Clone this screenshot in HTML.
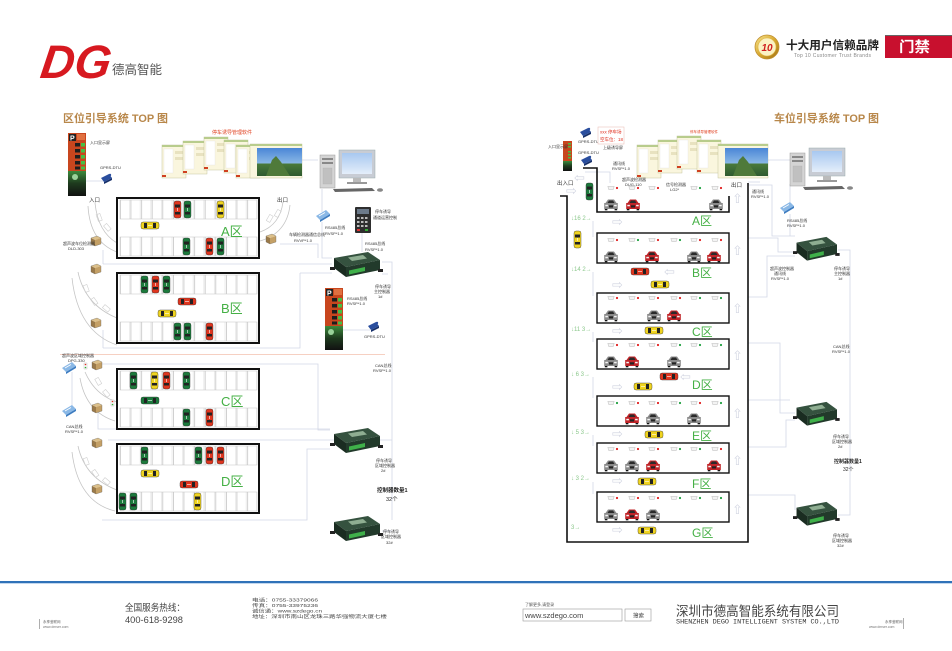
<!DOCTYPE html>
<html><head><meta charset="utf-8">
<style>
html,body{margin:0;padding:0;background:#fff;}
body{width:952px;height:651px;overflow:hidden;}
svg{display:block;font-family:"Liberation Sans","Noto Sans CJK SC",sans-serif;}
.t{font-size:4px;fill:#333;}
.ln{fill:none;stroke:#d3d7e6;stroke-width:0.8;}
.arc{fill:none;stroke:#c4c4c4;stroke-width:0.8;}
.cnt{font-size:6px;fill:#8cc88c;}
.zl{font-size:13px;fill:#45b045;}
.zr{font-size:12px;fill:#45b045;}
.ar{font-size:13px;fill:#d4d7e3;font-family:"DejaVu Sans",sans-serif;}
</style></head>
<body>
<svg width="952" height="651" viewBox="0 0 952 651" xmlns="http://www.w3.org/2000/svg">
<defs>
  <pattern id="sp" width="10.6" height="4" patternUnits="userSpaceOnUse" x="120">
    <rect x="0" y="0" width="0.7" height="4" fill="#bdbdbd"/>
    <rect x="9.4" y="0" width="0.5" height="4" fill="#d6d6d6"/>
  </pattern>
  <g id="cv"><rect x="0" y="0" width="7" height="17" rx="2" stroke="#333" stroke-width="0.4"/><rect x="1" y="3.5" width="5" height="3" fill="#222"/><rect x="1" y="11" width="5" height="2.5" fill="#222"/><rect x="3" y="7" width="1" height="3" fill="#fff" opacity="0.6"/></g>
  <g id="ch"><rect x="0" y="0" width="18" height="7" rx="2" stroke="#333" stroke-width="0.4"/><rect x="3" y="1" width="3" height="5" fill="#222"/><rect x="12" y="1" width="3" height="5" fill="#222"/><rect x="7" y="3" width="4" height="1" fill="#fff" opacity="0.6"/></g>
  <g id="cf"><path d="M1.5,4 L4,0.5 H10 L12.5,4 H13.8 V10 H0.2 V4 Z"/><path d="M3.5,4 L5,1.5 H9 L10.5,4Z" fill="#2a2a2a"/><rect x="1.3" y="5.8" width="2.6" height="1.5" fill="#f4f4f4"/><rect x="10.1" y="5.8" width="2.6" height="1.5" fill="#f4f4f4"/><rect x="5" y="6.3" width="4" height="2.2" fill="#222"/><rect x="0.8" y="10" width="2.6" height="1.3" fill="#111"/><rect x="10.6" y="10" width="2.6" height="1.3" fill="#111"/></g>
  <g id="sn"><path d="M-3.2,-1.6 h6.4 l-1,3.2 h-4.4z" fill="#f3f3f3" stroke="#aaa" stroke-width="0.4"/></g>
  <g id="pb"><path d="M0,2 L6,0 L10,2 L4,4Z" fill="#dcc08a"/><path d="M0,2 L4,4 V10 L0,8Z" fill="#9a7a4a"/><path d="M4,4 L10,2 V8 L4,10Z" fill="#c4a066"/><path d="M0,2 L6,0 L10,2 V8 L4,10 L0,8Z" fill="none" stroke="#555" stroke-width="0.3"/></g>
  <g id="ctl"><path d="M4,8 L38,2 L50,10 L16,17Z" fill="#35523f"/><path d="M4,8 L16,17 V27 L4,18Z" fill="#1a2c21"/><path d="M16,17 L50,10 V20 L16,27Z" fill="#223a2b"/><path d="M18,7.5 L33,5 L37,8.5 L22,11Z" fill="#8fae92"/><path d="M19,20.5 L35,17 V21 L19,24.5Z" fill="#3fb04a"/><rect x="0" y="17" width="5" height="3" fill="#222"/><rect x="48" y="19" width="5" height="3" fill="#222"/></g>
  <g id="gprs"><path d="M0,4 L8,0 L11,4 L3,8Z" fill="#2a4e9e"/><path d="M3,8 L11,4 V6 L3,10Z" fill="#17306a"/><circle cx="9" cy="1" r="1.2" fill="#2a4e9e"/></g>
  <g id="conv"><path d="M0,6 L10,0 L14,4 L4,10Z" fill="#8ab8e6"/><path d="M4,10 L14,4 V6 L4,12Z" fill="#3d7cc0"/><path d="M3,6 L9,2.5" stroke="#fff" stroke-width="0.8"/></g>
  <linearGradient id="scr" x1="0" y1="0" x2="0" y2="1"><stop offset="0" stop-color="#4a86d6"/><stop offset="0.55" stop-color="#8ab8e6"/><stop offset="0.56" stop-color="#4a7a3a"/><stop offset="1" stop-color="#2e5a30"/></linearGradient>
  <linearGradient id="mon" x1="0" y1="0" x2="0" y2="1"><stop offset="0" stop-color="#a8c8f0"/><stop offset="1" stop-color="#e4eefa"/></linearGradient>
  <linearGradient id="gold" x1="0" y1="0" x2="1" y2="1"><stop offset="0" stop-color="#f8e690"/><stop offset="0.5" stop-color="#d8a830"/><stop offset="1" stop-color="#a07010"/></linearGradient>
  <linearGradient id="sig" x1="0" y1="0" x2="0" y2="1"><stop offset="0" stop-color="#3c8a3c"/><stop offset="0.5" stop-color="#1e3a1e"/><stop offset="1" stop-color="#111"/></linearGradient>
  <g id="pc">
    <rect x="0" y="5" width="15" height="33" fill="#d4d4d4" stroke="#999" stroke-width="0.5"/>
    <rect x="2" y="8" width="11" height="2" fill="#888"/><rect x="2" y="12" width="11" height="2" fill="#888"/><rect x="3" y="18" width="9" height="16" fill="#c0c0c0" stroke="#aaa" stroke-width="0.3"/>
    <rect x="19" y="0" width="36" height="28" fill="#c8ccd4" stroke="#9aa" stroke-width="0.5"/>
    <rect x="22" y="3" width="30" height="21" fill="url(#mon)"/>
    <rect x="33" y="28" width="8" height="4" fill="#bbb"/><rect x="27" y="32" width="20" height="2" fill="#999"/>
    <path d="M13,39 L52,38 L55,41 L15,42Z" fill="#666"/><ellipse cx="60" cy="40" rx="3" ry="1.8" fill="#888"/>
  </g>
  <g id="win">
    <rect x="0" y="0" width="24" height="33" fill="#faf6de" stroke="#b8b890" stroke-width="0.4"/>
    <rect x="0" y="0" width="24" height="2" fill="#b8cc8c"/>
    <rect x="2" y="4" width="9" height="24" fill="#fff" stroke="#ddd" stroke-width="0.3"/>
    <rect x="13" y="6" width="8" height="3" fill="#e8e2c0"/><rect x="13" y="12" width="8" height="3" fill="#e8e2c0"/>
    <rect x="0" y="30" width="4" height="2" fill="#d04020"/>
  </g>
</defs>

<!-- ===== HEADER ===== -->
<text x="41" y="78" font-size="47" font-weight="bold" font-style="italic" fill="#d71920" textLength="70" lengthAdjust="spacingAndGlyphs" transform="skewX(-8) translate(9,0)">DG</text>
<text x="112" y="74" font-size="12.5" fill="#555" textLength="50" lengthAdjust="spacingAndGlyphs">德高智能</text>

<circle cx="767" cy="47" r="12" fill="url(#gold)" stroke="#c09030" stroke-width="0.8"/>
<circle cx="767" cy="47" r="9" fill="#fbf2c4" stroke="#e0b848" stroke-width="0.6"/>
<text x="767" y="51" font-size="10" font-weight="bold" font-style="italic" fill="#d02020" text-anchor="middle">10</text>
<text x="786" y="49" font-size="11.5" font-weight="bold" fill="#222" textLength="93" lengthAdjust="spacingAndGlyphs">十大用户信赖品牌</text>
<text x="794" y="57" font-size="5" fill="#888" textLength="77" lengthAdjust="spacing">Top 10 Customer Trust Brands</text>
<rect x="885" y="35" width="67" height="23" fill="#c8102e"/>
<rect x="885" y="35" width="67" height="1" fill="#666"/>
<text x="899" y="52" font-size="14.5" font-weight="bold" fill="#fff" textLength="31" lengthAdjust="spacingAndGlyphs">门禁</text>

<text x="63" y="122" font-size="11" font-weight="bold" fill="#b8874a" textLength="105" lengthAdjust="spacingAndGlyphs">区位引导系统 TOP 图</text>
<text x="774" y="122" font-size="11" font-weight="bold" fill="#b8874a" textLength="105" lengthAdjust="spacingAndGlyphs">车位引导系统 TOP 图</text>

<!-- ===== LEFT DIAGRAM ===== -->
<path class="ln" d="M86,181 H104 M302,160 H318 M322,189 V212 M322,222 V258 H332 M362,232 V252 M280,244 H318 V258 M103,264 H332 M300,273 H332 M300,273 V348 H103 M103,330 V348 M103,250 V264 M343,330 H370 M382,262 H392 V520 M382,274 H388 M392,440 H108 M100,364 H318 V430 H330 M98,412 V429 H330 M72,372 V412 M102,520 H307 V449 H330 M382,531 H392"/>
<rect x="68" y="133" width="18" height="38" fill="#c8461e"/>
<rect x="69" y="134" width="7" height="7" fill="#222"/><text x="70" y="140.5" font-size="7" font-weight="bold" fill="#fff">P</text>
<rect x="77" y="134" width="8" height="6" fill="#e07040"/>
<g fill="#1e1e1e"><rect x="75" y="143" width="5" height="3.5"/><rect x="75" y="149" width="5" height="3.5"/><rect x="75" y="155" width="5" height="3.5"/><rect x="75" y="161" width="5" height="3.5"/><rect x="75" y="166.5" width="5" height="3"/></g>
<g fill="#44c044"><rect x="81" y="143" width="4" height="3.5"/><rect x="81" y="149" width="4" height="3.5"/><rect x="81" y="155" width="4" height="3.5"/><rect x="81" y="161" width="4" height="3.5"/><rect x="81" y="166.5" width="4" height="3"/></g>
<rect x="68" y="171" width="18" height="25" fill="url(#sig)"/>
<circle cx="75" cy="177" r="3" fill="#9ad29a"/>
<text class="t" x="90" y="144">入口显示屏</text>
<text class="t" x="100" y="169" font-size="3.5">GPRS-DTU</text>
<use href="#gprs" x="101" y="174"/>

<text x="212" y="134" font-size="5" fill="#e04020" textLength="40" lengthAdjust="spacingAndGlyphs">停车诱导管理软件</text>
<use href="#win" x="162" y="145"/>
<use href="#win" x="183" y="141"/>
<use href="#win" x="204" y="137"/>
<use href="#win" x="224" y="140"/>
<use href="#win" x="236" y="145"/>
<rect x="250" y="144" width="52" height="34" fill="#faf6de" stroke="#b8b890" stroke-width="0.4"/>
<rect x="250" y="144" width="52" height="2" fill="#b8cc8c"/>
<rect x="257" y="148" width="45" height="28" fill="url(#scr)"/>
<path d="M266,176 L272,160 L276,156 L281,162 L290,176Z" fill="#4f7a3a"/>

<use href="#pc" x="320" y="150"/>

<text x="89" y="202" font-size="5.5" fill="#333">入口</text>
<text x="277" y="202" font-size="5.5" fill="#333">出口</text>

<path class="arc" d="M95,203 Q98,232 117,243 M88,206 Q90,242 117,252 M283,202 Q280,225 260,232 M290,205 Q287,233 260,241 M78,272 Q85,305 117,318 M72,278 Q78,332 117,345 M85,372 Q95,395 117,402 M80,378 Q86,412 115,421 M78,446 Q85,478 117,490 M72,452 Q78,502 115,511"/>
<g fill="none" stroke="#cfcfcf" stroke-width="0.6">
<rect x="97" y="214" width="4" height="7" transform="rotate(-20 99 217)"/><rect x="105" y="224" width="4" height="7" transform="rotate(-40 107 227)"/>
<rect x="268" y="215" width="4" height="7" transform="rotate(30 270 218)"/><rect x="276" y="210" width="4" height="7" transform="rotate(30 278 213)"/>
<rect x="84" y="285" width="4" height="7" transform="rotate(-20 86 288)"/><rect x="92" y="298" width="4" height="7" transform="rotate(-35 94 301)"/><rect x="104" y="305" width="4" height="7" transform="rotate(-50 106 308)"/>
<rect x="96" y="378" width="4" height="7" transform="rotate(-30 98 381)"/><rect x="104" y="390" width="4" height="7" transform="rotate(-40 106 393)"/>
<rect x="84" y="458" width="4" height="7" transform="rotate(-20 86 461)"/><rect x="93" y="470" width="4" height="7" transform="rotate(-35 95 473)"/><rect x="104" y="478" width="4" height="7" transform="rotate(-50 106 481)"/>
</g>

<!-- Zone A -->
<rect x="117" y="198" width="142" height="60" fill="#fff" stroke="#111" stroke-width="2"/>
<rect x="120" y="200" width="137" height="19" fill="url(#sp)" stroke="#c4c4c4" stroke-width="0.5"/>
<rect x="120" y="237" width="137" height="19" fill="url(#sp)" stroke="#c4c4c4" stroke-width="0.5"/>
<use href="#cv" x="174" y="201" fill="#e0351e"/><use href="#cv" x="184" y="201" fill="#1c7a3c"/><use href="#cv" x="217" y="201" fill="#f0d420"/>
<use href="#ch" x="141" y="222" fill="#f0d420"/>
<use href="#cv" x="183" y="238" fill="#1c7a3c"/><use href="#cv" x="206" y="238" fill="#e0351e"/><use href="#cv" x="217" y="238" fill="#1c7a3c"/>
<text class="zl" x="221" y="236">A区</text>

<!-- Zone B -->
<rect x="117" y="273" width="142" height="70" fill="#fff" stroke="#111" stroke-width="2"/>
<rect x="120" y="275" width="137" height="19" fill="url(#sp)" stroke="#c4c4c4" stroke-width="0.5"/>
<rect x="120" y="322" width="137" height="19" fill="url(#sp)" stroke="#c4c4c4" stroke-width="0.5"/>
<use href="#cv" x="141" y="276" fill="#1c7a3c"/><use href="#cv" x="152" y="276" fill="#e0351e"/><use href="#cv" x="163" y="276" fill="#1c7a3c"/>
<use href="#ch" x="178" y="298" fill="#e0351e"/><use href="#ch" x="158" y="310" fill="#f0d420"/>
<use href="#cv" x="174" y="323" fill="#1c7a3c"/><use href="#cv" x="184" y="323" fill="#1c7a3c"/><use href="#cv" x="206" y="323" fill="#e0351e"/>
<text class="zl" x="221" y="313">B区</text>

<rect x="60" y="354" width="325" height="0.8" fill="#f4c4b4"/>

<!-- Zone C -->
<rect x="117" y="369" width="142" height="60" fill="#fff" stroke="#111" stroke-width="2"/>
<rect x="120" y="371" width="137" height="19" fill="url(#sp)" stroke="#c4c4c4" stroke-width="0.5"/>
<rect x="120" y="408" width="137" height="19" fill="url(#sp)" stroke="#c4c4c4" stroke-width="0.5"/>
<use href="#cv" x="130" y="372" fill="#1c7a3c"/><use href="#cv" x="151" y="372" fill="#f0d420"/><use href="#cv" x="163" y="372" fill="#e0351e"/><use href="#cv" x="183" y="372" fill="#1c7a3c"/>
<use href="#ch" x="141" y="397" fill="#1c7a3c"/>
<use href="#cv" x="183" y="409" fill="#1c7a3c"/><use href="#cv" x="206" y="409" fill="#e0351e"/>
<text class="zl" x="221" y="406">C区</text>

<!-- Zone D -->
<rect x="117" y="444" width="142" height="69" fill="#fff" stroke="#111" stroke-width="2"/>
<rect x="120" y="446" width="137" height="19" fill="url(#sp)" stroke="#c4c4c4" stroke-width="0.5"/>
<rect x="120" y="492" width="137" height="19" fill="url(#sp)" stroke="#c4c4c4" stroke-width="0.5"/>
<use href="#cv" x="141" y="447" fill="#1c7a3c"/><use href="#cv" x="195" y="447" fill="#1c7a3c"/><use href="#cv" x="206" y="447" fill="#e0351e"/><use href="#cv" x="217" y="447" fill="#e0351e"/>
<use href="#ch" x="141" y="470" fill="#f0d420"/><use href="#ch" x="180" y="481" fill="#e0351e"/>
<use href="#cv" x="119" y="493" fill="#1c7a3c"/><use href="#cv" x="130" y="493" fill="#1c7a3c"/><use href="#cv" x="194" y="493" fill="#f0d420"/>
<text class="zl" x="221" y="486">D区</text>

<use href="#pb" x="91" y="236"/><use href="#pb" x="91" y="264"/><use href="#pb" x="91" y="318"/><use href="#pb" x="266" y="234"/>
<use href="#pb" x="92" y="360"/><use href="#pb" x="92" y="403"/><use href="#pb" x="92" y="438"/><use href="#pb" x="92" y="484"/>
<use href="#conv" x="62" y="362"/><use href="#conv" x="62" y="405"/>
<rect x="84" y="363" width="3" height="6" fill="#fff" stroke="#999" stroke-width="0.3"/><circle cx="85.5" cy="364.5" r="0.8" fill="#e03020"/><circle cx="85.5" cy="367.5" r="0.8" fill="#30b030"/>
<rect x="111" y="400" width="3" height="6" fill="#fff" stroke="#999" stroke-width="0.3"/><circle cx="112.5" cy="401.5" r="0.8" fill="#e03020"/><circle cx="112.5" cy="404.5" r="0.8" fill="#30b030"/>

<use href="#conv" x="316" y="210"/>
<rect x="355" y="207" width="16" height="26" rx="1" fill="#2e2e2e"/>
<rect x="357" y="209" width="12" height="5" fill="#6c7a8a"/>
<g fill="#bbb"><rect x="357" y="217" width="2.5" height="2"/><rect x="361" y="217" width="2.5" height="2"/><rect x="365" y="217" width="2.5" height="2"/><rect x="357" y="221" width="2.5" height="2"/><rect x="361" y="221" width="2.5" height="2"/><rect x="365" y="221" width="2.5" height="2"/><rect x="357" y="225" width="2.5" height="2"/><rect x="361" y="225" width="2.5" height="2"/><rect x="365" y="225" width="2.5" height="2"/></g>
<rect x="357" y="229" width="3" height="2" fill="#d33"/><rect x="365" y="229" width="3" height="2" fill="#3a3"/>
<use href="#ctl" x="330" y="250"/>
<use href="#ctl" x="330" y="426"/>
<use href="#ctl" x="330" y="514"/>
<rect x="325" y="288" width="18" height="38" fill="#c8461e"/>
<rect x="326" y="289" width="7" height="7" fill="#222"/><text x="327" y="295.5" font-size="7" font-weight="bold" fill="#fff">P</text>
<rect x="334" y="289" width="8" height="6" fill="#e07040"/>
<g fill="#1e1e1e"><rect x="332" y="298" width="5" height="3.5"/><rect x="332" y="304" width="5" height="3.5"/><rect x="332" y="310" width="5" height="3.5"/><rect x="332" y="316" width="5" height="3.5"/><rect x="332" y="321.5" width="5" height="3"/></g>
<g fill="#44c044"><rect x="338" y="298" width="4" height="3.5"/><rect x="338" y="304" width="4" height="3.5"/><rect x="338" y="310" width="4" height="3.5"/><rect x="338" y="316" width="4" height="3.5"/><rect x="338" y="321.5" width="4" height="3"/></g>
<rect x="325" y="326" width="18" height="24" fill="url(#sig)"/>
<circle cx="331" cy="332" r="3" fill="#9ad29a"/>
<use href="#gprs" x="368" y="322"/>

<text class="t" x="63" y="245" font-size="3.5">超声波车位检测器</text><text class="t" x="68" y="250" font-size="3.5">DLD-303</text>
<text class="t" x="289" y="236" font-size="3.5">车辆检测器通信总线</text><text class="t" x="294" y="242" font-size="3.5">RVVP*1.0</text>
<text class="t" x="325" y="229" font-size="3.5">RS485总线</text><text class="t" x="325" y="235" font-size="3.5">RVSP*1.0</text>
<text class="t" x="375" y="213" font-size="3.5">停车诱导</text><text class="t" x="373" y="219" font-size="3.5">通道运营控制</text>
<text class="t" x="365" y="245" font-size="3.5">RS485总线</text><text class="t" x="365" y="251" font-size="3.5">RVSP*1.0</text>
<text class="t" x="375" y="288" font-size="3.5">停车诱导</text><text class="t" x="374" y="293" font-size="3.5">主控制器</text><text class="t" x="378" y="298" font-size="3.5">1#</text>
<text class="t" x="347" y="300" font-size="3.5">RS485总线</text><text class="t" x="347" y="305" font-size="3.5">RVSP*1.0</text>
<text class="t" x="364" y="338" font-size="3.5">GPRS-DTU</text>
<text class="t" x="62" y="357" font-size="3.5">超声波区域控制器</text><text class="t" x="68" y="362" font-size="3.5">DPG-330</text>
<text class="t" x="66" y="428" font-size="3.5">CAN总线</text><text class="t" x="65" y="433" font-size="3.5">RVSP*1.0</text>
<text class="t" x="375" y="367" font-size="3.5">CAN总线</text><text class="t" x="373" y="372" font-size="3.5">RVSP*1.0</text>
<text class="t" x="376" y="462" font-size="3.5">停车诱导</text><text class="t" x="375" y="467" font-size="3.5">区域控制器</text><text class="t" x="381" y="472" font-size="3.5">2#</text>
<text x="377" y="492" font-size="5.5" font-weight="bold" fill="#222">控制器数量1</text><text x="386" y="501" font-size="5.5" fill="#222">32个</text>
<text class="t" x="383" y="533" font-size="3.5">停车诱导</text><text class="t" x="381" y="538" font-size="3.5">区域控制器</text><text class="t" x="386" y="544" font-size="3.5">32#</text>

<!-- ===== RIGHT DIAGRAM ===== -->
<path class="ln" d="M585,172 H610 V183 M768,160 H790 M748,185 H772 V236 H795 M790,184 V202 M790,214 V236 M748,238 H778 V252 H795 M748,297 H767 V256 H795 M748,343 H780 V413 H795 M748,400 H790 M748,447 H786 V420 H795 M748,495 H795 V510 M838,250 H850 V515 H838 M748,182 H760"/>
<path class="ln" d="M593,221 V237 M593,272 V296 M593,332 V342 M593,377 V398 M593,435 V446 M593,482 V494"/>

<rect x="563" y="141" width="9" height="8" fill="#c8461e"/>
<g fill="#44c044"><rect x="568" y="143" width="3" height="1.5"/><rect x="568" y="146" width="3" height="1.5"/></g>
<rect x="563" y="149" width="9" height="12" fill="#c8461e"/>
<g fill="#44c044"><rect x="568" y="151" width="3" height="1.5"/><rect x="568" y="154" width="3" height="1.5"/><rect x="568" y="157" width="3" height="1.5"/></g>
<rect x="563" y="161" width="9" height="10" fill="url(#sig)"/>
<text class="t" x="548" y="148" font-size="3.5">入口显示屏</text>
<use href="#gprs" x="580" y="128"/>
<use href="#gprs" x="581" y="156"/>
<text class="t" x="578" y="143" font-size="3">GPRS-DTU</text><text class="t" x="578" y="154" font-size="3">GPRS-DTU</text>
<rect x="598" y="127" width="26" height="17" fill="#fff" stroke="#e8b8b0" stroke-width="0.5"/>
<text x="600" y="133.5" font-size="4.5" fill="#e03020">xxx 停车场</text>
<text x="600" y="141" font-size="4.5" fill="#e03020">空车位：18</text>
<text class="t" x="603" y="149" font-size="3">上级诱导屏</text>

<text x="690" y="133" font-size="3.5" fill="#e04020">停车诱导管理软件</text>
<use href="#win" x="637" y="145"/>
<use href="#win" x="658" y="140"/>
<use href="#win" x="677" y="136"/>
<use href="#win" x="697" y="140"/>
<rect x="718" y="144" width="50" height="34" fill="#faf6de" stroke="#b8b890" stroke-width="0.4"/>
<rect x="718" y="144" width="50" height="2" fill="#b8cc8c"/>
<rect x="725" y="148" width="43" height="28" fill="url(#scr)"/>
<path d="M733,176 L739,160 L743,156 L748,162 L757,176Z" fill="#4f7a3a"/>
<use href="#pc" x="790" y="148"/>
<use href="#conv" x="780" y="202"/>

<text class="t" x="613" y="165" font-size="3.5">通讯线</text><text class="t" x="612" y="170" font-size="3.5">RVSP*1.0</text>
<text class="t" x="622" y="181" font-size="3.5">超声波检测器</text><text class="t" x="625" y="186" font-size="3.5">DUG-110</text>
<text class="t" x="666" y="186" font-size="3.5">信号检测器</text><text class="t" x="670" y="191" font-size="3.5">LG2*</text>
<text x="557" y="185" font-size="5.5" fill="#333">出入口</text>
<text x="731" y="187" font-size="5.5" fill="#333">出口</text>
<text class="t" x="752" y="193" font-size="3.5">通讯线</text><text class="t" x="751" y="198" font-size="3.5">RVSP*1.0</text>
<text class="t" x="787" y="222" font-size="3.5">RS485总线</text><text class="t" x="787" y="227" font-size="3.5">RVSP*1.0</text>
<text class="t" x="770" y="270" font-size="3.5">超声波控制器</text><text class="t" x="774" y="275" font-size="3.5">通讯线</text><text class="t" x="771" y="280" font-size="3.5">RVSP*1.0</text>
<text class="t" x="834" y="270" font-size="3.5">停车诱导</text><text class="t" x="834" y="275" font-size="3.5">主控制器</text><text class="t" x="838" y="280" font-size="3.5">1#</text>
<text class="t" x="833" y="348" font-size="3.5">CAN总线</text><text class="t" x="832" y="353" font-size="3.5">RVSP*1.0</text>
<text class="t" x="833" y="438" font-size="3.5">停车诱导</text><text class="t" x="832" y="443" font-size="3.5">区域控制器</text><text class="t" x="838" y="448" font-size="3.5">2#</text>
<text x="834" y="463" font-size="5" font-weight="bold" fill="#222">控制器数量1</text><text x="843" y="471" font-size="5" fill="#222">32个</text>
<text class="t" x="833" y="537" font-size="3.5">停车诱导</text><text class="t" x="832" y="542" font-size="3.5">区域控制器</text><text class="t" x="837" y="547" font-size="3.5">32#</text>

<g transform="translate(793,235) scale(0.88,0.95)"><use href="#ctl"/></g>
<g transform="translate(793,400) scale(0.88,0.95)"><use href="#ctl"/></g>
<g transform="translate(793,500) scale(0.88,0.95)"><use href="#ctl"/></g>

<path d="M560,196 H567 V542 H748 V183" fill="none" stroke="#111" stroke-width="1.6"/>
<path d="M583,168 H597 V212 H729 V196" fill="none" stroke="#111" stroke-width="1.6"/>
<g fill="none" stroke="#111" stroke-width="1.4">
<rect x="597" y="233" width="132" height="30"/>
<rect x="597" y="293" width="132" height="30"/>
<rect x="597" y="339" width="132" height="30"/>
<rect x="597" y="396" width="132" height="30"/>
<rect x="597" y="443" width="132" height="30"/>
<rect x="597" y="492" width="132" height="30"/>
</g>

<g>
<use href="#sn" x="611" y="188"/><use href="#sn" x="632" y="188"/><use href="#sn" x="652" y="188"/><use href="#sn" x="694" y="188"/><use href="#sn" x="715" y="188"/>
<use href="#sn" x="611" y="240"/><use href="#sn" x="632" y="240"/><use href="#sn" x="652" y="240"/><use href="#sn" x="674" y="240"/><use href="#sn" x="694" y="240"/><use href="#sn" x="715" y="240"/>
<use href="#sn" x="611" y="298"/><use href="#sn" x="632" y="298"/><use href="#sn" x="652" y="298"/><use href="#sn" x="674" y="298"/><use href="#sn" x="694" y="298"/><use href="#sn" x="715" y="298"/>
<use href="#sn" x="611" y="345"/><use href="#sn" x="632" y="345"/><use href="#sn" x="652" y="345"/><use href="#sn" x="674" y="345"/><use href="#sn" x="694" y="345"/><use href="#sn" x="715" y="345"/>
<use href="#sn" x="611" y="403"/><use href="#sn" x="632" y="403"/><use href="#sn" x="652" y="403"/><use href="#sn" x="674" y="403"/><use href="#sn" x="694" y="403"/><use href="#sn" x="715" y="403"/>
<use href="#sn" x="611" y="449"/><use href="#sn" x="632" y="449"/><use href="#sn" x="652" y="449"/><use href="#sn" x="674" y="449"/><use href="#sn" x="694" y="449"/><use href="#sn" x="715" y="449"/>
<use href="#sn" x="611" y="498"/><use href="#sn" x="632" y="498"/><use href="#sn" x="652" y="498"/><use href="#sn" x="674" y="498"/><use href="#sn" x="694" y="498"/><use href="#sn" x="715" y="498"/>
</g>
<g>
<circle cx="617" cy="188" r="1.1" fill="#e02020"/><circle cx="638" cy="188" r="1.1" fill="#e02020"/><circle cx="658" cy="188" r="1.1" fill="#e02020"/><circle cx="700" cy="188" r="1.1" fill="#20a040"/><circle cx="721" cy="188" r="1.1" fill="#e02020"/>
<circle cx="617" cy="240" r="1.1" fill="#e02020"/><circle cx="638" cy="240" r="1.1" fill="#20a040"/><circle cx="658" cy="240" r="1.1" fill="#e02020"/><circle cx="680" cy="240" r="1.1" fill="#20a040"/><circle cx="700" cy="240" r="1.1" fill="#e02020"/><circle cx="721" cy="240" r="1.1" fill="#e02020"/>
<circle cx="617" cy="298" r="1.1" fill="#e02020"/><circle cx="638" cy="298" r="1.1" fill="#e02020"/><circle cx="658" cy="298" r="1.1" fill="#e02020"/><circle cx="680" cy="298" r="1.1" fill="#e02020"/><circle cx="700" cy="298" r="1.1" fill="#20a040"/><circle cx="721" cy="298" r="1.1" fill="#20a040"/>
<circle cx="617" cy="345" r="1.1" fill="#e02020"/><circle cx="638" cy="345" r="1.1" fill="#e02020"/><circle cx="658" cy="345" r="1.1" fill="#e02020"/><circle cx="680" cy="345" r="1.1" fill="#20a040"/><circle cx="700" cy="345" r="1.1" fill="#20a040"/><circle cx="721" cy="345" r="1.1" fill="#20a040"/>
<circle cx="617" cy="403" r="1.1" fill="#20a040"/><circle cx="638" cy="403" r="1.1" fill="#e02020"/><circle cx="658" cy="403" r="1.1" fill="#e02020"/><circle cx="680" cy="403" r="1.1" fill="#20a040"/><circle cx="700" cy="403" r="1.1" fill="#e02020"/><circle cx="721" cy="403" r="1.1" fill="#20a040"/>
<circle cx="617" cy="449" r="1.1" fill="#e02020"/><circle cx="638" cy="449" r="1.1" fill="#e02020"/><circle cx="658" cy="449" r="1.1" fill="#e02020"/><circle cx="680" cy="449" r="1.1" fill="#20a040"/><circle cx="700" cy="449" r="1.1" fill="#20a040"/><circle cx="721" cy="449" r="1.1" fill="#e02020"/>
<circle cx="617" cy="498" r="1.1" fill="#e02020"/><circle cx="638" cy="498" r="1.1" fill="#e02020"/><circle cx="658" cy="498" r="1.1" fill="#e02020"/><circle cx="680" cy="498" r="1.1" fill="#20a040"/><circle cx="700" cy="498" r="1.1" fill="#20a040"/><circle cx="721" cy="498" r="1.1" fill="#20a040"/>
</g>

<use href="#cf" x="604" y="199" fill="#8a8a8a"/><use href="#cf" x="626" y="199" fill="#c02428"/><use href="#cf" x="709" y="199" fill="#8a8a8a"/>
<use href="#cf" x="604" y="251" fill="#8a8a8a"/><use href="#cf" x="645" y="251" fill="#c02428"/><use href="#cf" x="687" y="251" fill="#8a8a8a"/><use href="#cf" x="707" y="251" fill="#c02428"/>
<use href="#cf" x="604" y="310" fill="#8a8a8a"/><use href="#cf" x="647" y="310" fill="#8a8a8a"/><use href="#cf" x="667" y="310" fill="#c02428"/>
<use href="#cf" x="604" y="356" fill="#8a8a8a"/><use href="#cf" x="625" y="356" fill="#c02428"/><use href="#cf" x="667" y="356" fill="#8a8a8a"/>
<use href="#cf" x="625" y="413" fill="#c02428"/><use href="#cf" x="646" y="413" fill="#8a8a8a"/><use href="#cf" x="687" y="413" fill="#8a8a8a"/>
<use href="#cf" x="604" y="460" fill="#8a8a8a"/><use href="#cf" x="625" y="460" fill="#8a8a8a"/><use href="#cf" x="646" y="460" fill="#c02428"/><use href="#cf" x="707" y="460" fill="#c02428"/>
<use href="#cf" x="604" y="509" fill="#8a8a8a"/><use href="#cf" x="625" y="509" fill="#c02428"/><use href="#cf" x="646" y="509" fill="#8a8a8a"/>

<use href="#cv" x="586" y="183" fill="#1c7a3c"/>
<use href="#cv" x="574" y="231" fill="#f0d420"/>
<use href="#ch" x="631" y="268" fill="#e0351e"/>
<use href="#ch" x="651" y="281" fill="#f0d420"/>
<use href="#ch" x="645" y="327" fill="#f0d420"/>
<use href="#ch" x="660" y="373" fill="#e0351e"/>
<use href="#ch" x="634" y="383" fill="#f0d420"/>
<use href="#ch" x="645" y="431" fill="#f0d420"/>
<use href="#ch" x="638" y="478" fill="#f0d420"/>
<use href="#ch" x="638" y="527" fill="#f0d420"/>

<text class="zr" x="692" y="225">A区</text>
<text class="zr" x="692" y="277">B区</text>
<text class="zr" x="692" y="336">C区</text>
<text class="zr" x="692" y="389">D区</text>
<text class="zr" x="692" y="440">E区</text>
<text class="zr" x="692" y="488">F区</text>
<text class="zr" x="692" y="537">G区</text>

<text class="ar" x="612" y="226">⇨</text>
<text class="ar" x="664" y="276">⇦</text>
<text class="ar" x="612" y="289">⇨</text>
<text class="ar" x="612" y="335">⇨</text>
<text class="ar" x="680" y="381">⇦</text>
<text class="ar" x="612" y="391">⇨</text>
<text class="ar" x="612" y="438">⇨</text>
<text class="ar" x="612" y="485">⇨</text>
<text class="ar" x="612" y="534">⇨</text>
<text class="ar" x="574" y="182">⇦</text>
<text class="ar" x="566" y="195">⇨</text>
<text class="ar" x="732" y="203">⇧</text>
<text class="ar" x="732" y="255">⇧</text>
<text class="ar" x="732" y="313">⇧</text>
<text class="ar" x="732" y="360">⇧</text>
<text class="ar" x="732" y="418">⇧</text>
<text class="ar" x="732" y="465">⇧</text>
<text class="ar" x="732" y="514">⇧</text>

<text class="cnt" x="571" y="220">↓16 2→</text>
<text class="cnt" x="571" y="271">↓14 2→</text>
<text class="cnt" x="571" y="331">↓11 3→</text>
<text class="cnt" x="571" y="376">↓ 6 3→</text>
<text class="cnt" x="571" y="434">↓ 5 3→</text>
<text class="cnt" x="571" y="480">↓ 3 2→</text>
<text class="cnt" x="571" y="529">3→</text>

<!-- ===== FOOTER ===== -->
<rect x="0" y="581" width="952" height="2" fill="#2f72b8"/>
<rect x="0" y="583" width="952" height="0.7" fill="#a8c6e6"/>
<rect x="39" y="619" width="0.6" height="10" fill="#777"/>
<text x="43" y="623" font-size="3.5" fill="#666">永享莹联网</text>
<text x="43" y="628" font-size="3.5" fill="#777">www.dmser.com</text>
<text x="125" y="611" font-size="9.5" fill="#444" textLength="60" lengthAdjust="spacingAndGlyphs">全国服务热线：</text>
<text x="125" y="623" font-size="9.5" fill="#444" textLength="58" lengthAdjust="spacingAndGlyphs">400-618-9298</text>
<text x="252" y="601.5" font-size="4.8" fill="#444" textLength="66" lengthAdjust="spacingAndGlyphs">电话：0755-33379066</text>
<text x="252" y="607" font-size="4.8" fill="#444" textLength="66" lengthAdjust="spacingAndGlyphs">传真：0755-33975236</text>
<text x="252" y="612.5" font-size="4.8" fill="#444" textLength="70" lengthAdjust="spacingAndGlyphs">诚信通：www.szdego.cn</text>
<text x="252" y="618" font-size="4.8" fill="#444" textLength="135" lengthAdjust="spacingAndGlyphs">地址：深圳市南山区龙珠三路华强物流大厦七楼</text>

<text x="525" y="606" font-size="4" fill="#555">了解更多,请登录</text>
<rect x="523" y="609" width="99" height="12" fill="#fff" stroke="#999" stroke-width="0.6"/>
<text x="525" y="618" font-size="7.5" fill="#444">www.szdego.com</text>
<rect x="625" y="609" width="26" height="12" fill="#fff" stroke="#999" stroke-width="0.6"/>
<text x="633" y="617.5" font-size="5.5" fill="#444">搜索</text>
<text x="676" y="616" font-size="13.5" fill="#444" textLength="163" lengthAdjust="spacingAndGlyphs">深圳市德高智能系统有限公司</text>
<text x="676" y="623.5" font-size="6" fill="#333" font-family="Liberation Mono, monospace" textLength="163" lengthAdjust="spacingAndGlyphs">SHENZHEN DEGO INTELLIGENT SYSTEM CO.,LTD</text>
<text x="885" y="623" font-size="3.5" fill="#666">永享莹联网</text>
<text x="869" y="628" font-size="3.5" fill="#777">www.dmser.com</text>
<rect x="903" y="618" width="0.6" height="11" fill="#777"/>
</svg>
</body></html>
